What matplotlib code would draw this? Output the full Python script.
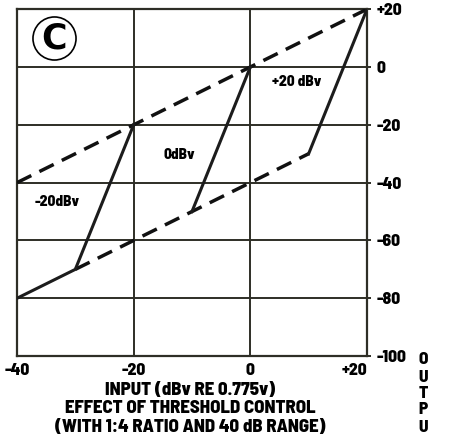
import matplotlib
matplotlib.use("Agg")
import matplotlib.pyplot as plt

# curves (input dBv, output dBv)
upper_dash_x = [-40, 20]
upper_dash_y = [-40, 20]
lower_dash_x = [-30, 10]
lower_dash_y = [-70, -30]

m20_x = [-40, -30, -20]
m20_y = [-80, -70, -20]
zero_x = [-10, 0]
zero_y = [-50, 0]
p20_x = [10, 20]
p20_y = [-30, 20]

x_ticks = [-40, -20, 0, 20]
x_labels = ["-40", "-20", "0", "+20"]
y_ticks = [20, 0, -20, -40, -60, -80, -100]
y_labels = ["+20", "0", "-20", "-40", "-60", "-80", "-100"]

plt.rcParams['font.family'] = ['Barlow Semi Condensed', 'DejaVu Sans']
plt.rcParams['font.weight'] = 800
W = 800

fig = plt.figure(figsize=(4.59, 4.38), dpi=100)
ax = fig.add_axes([0.037, 0.187, 0.7625, 0.792])
ax.set_xlim(-40, 20)
ax.set_ylim(-100, 20)

ink = '#2e2e26'
for v in [-20, 0]:
    ax.axvline(v, color=ink, lw=1.4, zorder=1)
for v in [0, -20, -40, -60, -80]:
    ax.axhline(v, color=ink, lw=1.4, zorder=1)
for s in ax.spines.values():
    s.set_color(ink)
    s.set_linewidth(1.6)

dash = (0, (4.6, 2.6))
ax.plot(upper_dash_x, upper_dash_y, color='#111', lw=2.5, linestyle=dash, zorder=3)
ax.plot(lower_dash_x, lower_dash_y, color='#111', lw=2.5, linestyle=dash, zorder=3)
for xs, ys in [(m20_x, m20_y), (zero_x, zero_y), (p20_x, p20_y)]:
    ax.plot(xs, ys, color='#1c1c1c', lw=2.2, solid_joinstyle='round', zorder=3)

ax.text(-33.1, -46.7, "-20dBv", fontsize=11, fontweight=W, ha='center', va='center')
ax.text(-12.1, -30.5, "0dBv", fontsize=11, fontweight=W, ha='center', va='center')
ax.text(8.0, -5.2, "+20 dBv", fontsize=11, fontweight=W, ha='center', va='center')

# circled panel letter
ax.plot([-33.66], [9.97], marker='o', ms=31, mfc='none', mec='black', mew=1.2, zorder=4)
ax.text(-33.66, 9.8, "C", fontsize=25, fontweight='heavy', family='DejaVu Sans',
        ha='center', va='center')

ax.set_xticks(x_ticks)
ax.set_xticklabels(x_labels, fontsize=12.5, fontweight=W)
ax.get_xticklabels()[-1].set_ha('right')
ax.yaxis.tick_right()
ax.set_yticks(y_ticks)
ax.set_yticklabels(y_labels, fontsize=12.5, fontweight=W)
ax.tick_params(axis='y', length=3, width=1.4, color=ink, pad=4)
ax.tick_params(axis='x', length=0, pad=5)

fig.text(0.414, 1 - 390 / 438, "INPUT (dBv RE 0.775v)", fontsize=13.5, fontweight=W,
         ha='center', va='center')
fig.text(0.414, 1 - 408 / 438, "EFFECT OF THRESHOLD CONTROL", fontsize=13.5, fontweight=W,
         ha='center', va='center')
fig.text(0.414, 1 - 427 / 438, "(WITH 1:4 RATIO AND 40 dB RANGE)", fontsize=13.5, fontweight=W,
         ha='center', va='center')

out_y = [360, 378, 393, 410, 428]
for ch, yy in zip("OUTPU", out_y):
    fig.text(423 / 459, 1 - yy / 438, ch, fontsize=12.5, fontweight=W, ha='center', va='center')

fig.savefig("out.png", dpi=100)
